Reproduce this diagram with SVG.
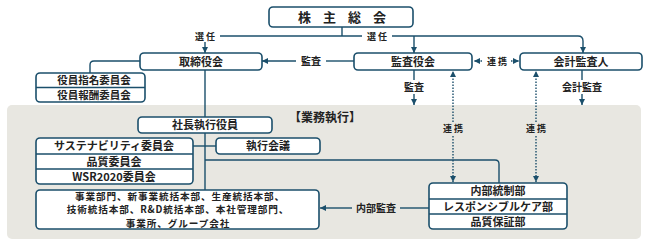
<svg xmlns="http://www.w3.org/2000/svg" width="648" height="246" viewBox="0 0 648 246">
<defs>
<marker id="ah" viewBox="0 0 10 10" refX="10" refY="5" markerWidth="6" markerHeight="6" markerUnits="userSpaceOnUse" orient="auto-start-reverse">
<path d="M0,0 L10,5 L0,10 z" fill="#1b4f6b"/>
</marker>
<style>
.bx{fill:#fff;stroke:#1b4f6b;stroke-width:1.6}
.ln{fill:none;stroke:#1b4f6b;stroke-width:1.4}
.dt{fill:none;stroke:#1b4f6b;stroke-width:1.4;stroke-dasharray:1.5,1.5}
.t{font-family:"Noto Sans CJK JP","Noto Sans",sans-serif;font-weight:bold;font-size:11px;fill:#222;text-anchor:middle}
.s{font-size:9px}
.m{font-size:10.5px}
.d{font-size:9.6px;letter-spacing:0.9px}
</style>
</defs>
<rect x="7" y="105" width="634" height="134" rx="5" fill="#e8e7e1"/>
<g id="connectors">
<path class="ln" d="M342,27 V36"/>
<path class="ln" d="M220,36 H362"/>
<path class="ln" d="M392,36 H578 Q583,36 583,41 V53" marker-end="url(#ah)"/>
<path class="ln" d="M414,36 V53" marker-end="url(#ah)"/>
<path class="ln" d="M205,42 V53" marker-end="url(#ah)"/>
<path class="ln" d="M354,61 H326"/>
<path class="ln" d="M296,61 H262" marker-end="url(#ah)"/>
<path class="dt" d="M482,61 H474" marker-end="url(#ah)"/>
<path class="dt" d="M511,61 H519" marker-end="url(#ah)"/>
<path class="ln" d="M140,61 H94 Q90,61 90,65 V73"/>
<path class="ln" d="M205,70 V190"/>
<path class="ln" d="M414,70 V80"/>
<path class="ln" d="M414,94 V105" marker-end="url(#ah)"/>
<path class="ln" d="M582,70 V80"/>
<path class="ln" d="M582,94 V105" marker-end="url(#ah)"/>
<path class="dt" d="M453,122 V71" marker-end="url(#ah)"/>
<path class="dt" d="M453,136 V182" marker-end="url(#ah)"/>
<path class="dt" d="M536,122 V71" marker-end="url(#ah)"/>
<path class="dt" d="M536,136 V182" marker-end="url(#ah)"/>
<path class="ln" d="M193,146 H216"/>
<path class="ln" d="M205,160 H495 Q499,160 499,164 V183"/>
<path class="ln" d="M429,208 H400"/>
<path class="ln" d="M352,208 H320" marker-end="url(#ah)"/>
</g>
<g class="t s">
<text x="205" y="39.5">選 任</text>
<text x="377" y="39.5">選 任</text>
<text x="311" y="64.5" style="font-size:10px">監査</text>
<text x="497" y="64.5">連 携</text>
<text x="414" y="91" style="font-size:10px">監査</text>
<text x="582" y="91" style="font-size:10px">会計監査</text>
<text x="453" y="132">連 携</text>
<text x="536" y="132">連 携</text>
<text x="376" y="212" style="font-size:10px">内部監査</text>
</g>
<text class="t" x="325" y="122" style="font-size:12px">【業務執行】</text>
<g id="shareholders"><rect class="bx" x="269" y="7" width="144" height="20" rx="4"/><text class="t" x="342" y="21.5" style="font-size:13px;letter-spacing:12px" dx="6">株主総会</text></g>
<g id="board"><rect class="bx" x="140" y="53" width="122" height="17" rx="4"/><text class="t" x="201" y="65.5">取締役会</text></g>
<g id="auditors"><rect class="bx" x="354" y="53" width="118" height="17" rx="4"/><text class="t" x="413" y="65.5">監査役会</text></g>
<g id="accounting"><rect class="bx" x="520" y="53" width="122" height="17" rx="4"/><text class="t" x="581" y="65.5">会計監査人</text></g>
<g id="committees"><rect class="bx" x="36" y="73" width="109" height="29" rx="4"/><path class="ln" d="M36,87.5 H145"/><text class="t m" x="94" y="84.2">役員指名委員会</text><text class="t m" x="94" y="98.8">役員報酬委員会</text></g>
<g id="president"><rect class="bx" x="138" y="117" width="134" height="16" rx="4"/><text class="t" x="205" y="129">社長執行役員</text></g>
<g id="sustain"><rect class="bx" x="36" y="138" width="157" height="46" rx="4"/><path class="ln" d="M36,154 H193 M36,169 H193"/><text class="t" x="114" y="150">サステナビリティ委員会</text><text class="t" x="114" y="165.5">品質委員会</text><text class="t" x="114" y="180.5">WSR2020委員会</text></g>
<g id="exec"><rect class="bx" x="216" y="138" width="104" height="16" rx="4"/><text class="t" x="268" y="150">執行会議</text></g>
<g id="divisions"><rect class="bx" x="36" y="190" width="283" height="39" rx="4"/><text class="t d" x="180" y="200">事業部門、新事業統括本部、生産統括本部、</text><text class="t d" x="178" y="213.3">技術統括本部、R&amp;D統括本部、本社管理部門、</text><text class="t d" x="178" y="226.6">事業所、グループ会社</text></g>
<g id="internal"><rect class="bx" x="429" y="183" width="138" height="46" rx="4"/><path class="ln" d="M429,199 H567 M429,214 H567"/><text class="t" x="498" y="195">内部統制部</text><text class="t" x="498" y="210.5">レスポンシブルケア部</text><text class="t" x="498" y="225.5">品質保証部</text></g>
</svg>
